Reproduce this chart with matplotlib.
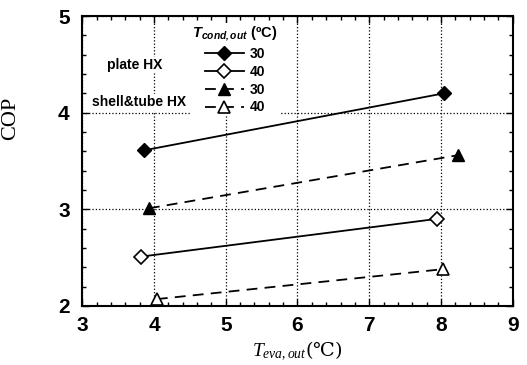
import numpy as np
import matplotlib.pyplot as plt
from matplotlib.ticker import MultipleLocator

plt.rcParams['mathtext.fontset'] = 'custom'
plt.rcParams['mathtext.it'] = 'Liberation Serif:italic'
plt.rcParams['mathtext.rm'] = 'Liberation Serif'
plt.rcParams['mathtext.sf'] = 'Liberation Sans:italic:bold'

# 데이터
x_plate30 = [3.86, 8.04]
y_plate30 = [3.61, 4.20]
x_plate40 = [3.82, 7.94]
y_plate40 = [2.51, 2.90]
x_shell30 = [3.93, 8.24]
y_shell30 = [3.01, 3.56]
x_shell40 = [4.04, 8.03]
y_shell40 = [2.07, 2.38]

x_ticks = [3, 4, 5, 6, 7, 8, 9]
y_ticks = [2, 3, 4, 5]

fig = plt.figure(figsize=(5.27, 3.65), dpi=100)
ax = fig.add_axes([0.156, 0.162, 0.817, 0.794])

lw = 1.3
dash = (6, 4)
l1, = ax.plot(x_plate30, y_plate30, '-', color='black', lw=lw, marker='D',
              ms=7, mfc='black', mec='black', label='30', zorder=3)
l2, = ax.plot(x_plate40, y_plate40, '-', color='black', lw=lw, marker='D',
              ms=7, mfc='white', mec='black', mew=1.2, label='40', zorder=3)
l3, = ax.plot(x_shell30, y_shell30, '--', dashes=dash, color='black', lw=lw, marker='^',
              ms=8, mfc='black', mec='black', label='30', zorder=3)
l4, = ax.plot(x_shell40, y_shell40, '--', dashes=dash, color='black', lw=lw, marker='^',
              ms=8, mfc='white', mec='black', mew=1.2, label='40', zorder=3)

ax.set_xlim(3, 9)
ax.set_ylim(2, 5)
ax.set_xticks(x_ticks)
ax.set_yticks(y_ticks)
ax.xaxis.set_minor_locator(MultipleLocator(0.2))
ax.yaxis.set_minor_locator(MultipleLocator(0.2))
ax.tick_params(which='both', direction='in', top=True, right=True, width=1)
ax.tick_params(which='major', length=5)
ax.tick_params(which='minor', length=3)
ax.grid(True, which='major', linestyle=':', color='black', lw=0.9)
ax.set_axisbelow(True)
for s in ax.spines.values():
    s.set_linewidth(1.5)

for lab in ax.get_xticklabels() + ax.get_yticklabels():
    lab.set_fontfamily('Liberation Sans')
    lab.set_fontweight('bold')
    lab.set_fontsize(15)
ax.tick_params(axis='x', pad=7)
ax.tick_params(axis='y', pad=9)

ax.set_ylabel('COP', fontfamily='Liberation Serif', fontsize=16)
ax.yaxis.set_label_coords(-0.145, 0.648)
ax.set_xlabel(r'$T_{eva,out}$(℃)', fontfamily='DejaVu Serif', fontsize=14, labelpad=4)

leg = ax.legend(handles=[l1, l2, l3, l4], loc='upper left', bbox_to_anchor=(0.235, 1.0),
                frameon=True, framealpha=1, edgecolor='none', facecolor='white',
                handlelength=2.8, handletextpad=0.4, labelspacing=0.27,
                borderpad=0.15, prop={'family': 'Liberation Sans', 'weight': 'bold', 'size': 10},
                title=r'$\mathsf{T_{cond,out}}$ (ºC)',
                title_fontproperties={'family': 'Liberation Sans', 'weight': 'bold', 'size': 10.5})
leg.set_zorder(1.5)

ax.text(0.058, 0.831, 'plate HX', transform=ax.transAxes, fontfamily='Liberation Sans',
        fontweight='bold', fontsize=10, ha='left', va='center', zorder=2,
        bbox=dict(facecolor='white', edgecolor='none', pad=1))
ax.text(0.023, 0.703, 'shell&tube HX', transform=ax.transAxes, fontfamily='Liberation Sans',
        fontweight='bold', fontsize=10, ha='left', va='center', zorder=2,
        bbox=dict(facecolor='white', edgecolor='none', pad=1))

fig.savefig('out.png', dpi=100)
